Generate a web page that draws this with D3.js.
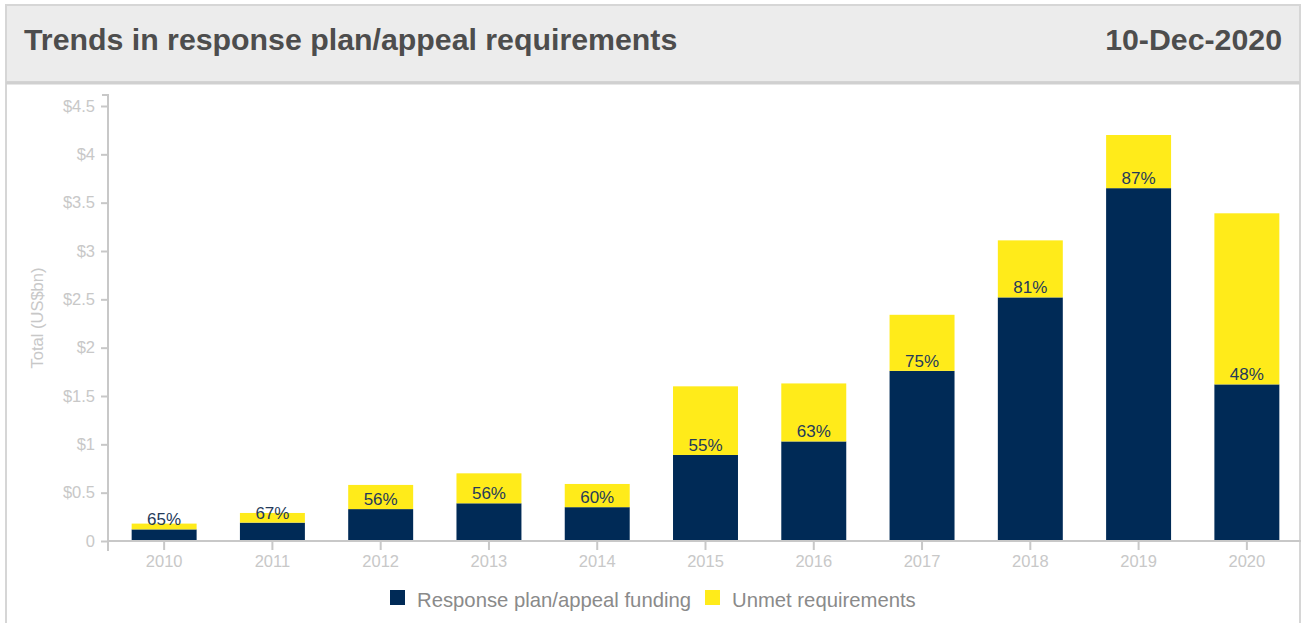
<!DOCTYPE html>
<html>
<head>
<meta charset="utf-8">
<script src="https://cdn.jsdelivr.net/npm/d3@7"></script>
<style>
  body { margin: 0; background: #fff; }
  svg { display: block; font-family: "Liberation Sans", Arial, sans-serif; }
</style>
</head>
<body>
<div id="chart"></div>
<script>
const years = ["2010", "2011", "2012", "2013", "2014", "2015", "2016", "2017", "2018", "2019", "2020"];
const funded = [0.12, 0.19, 0.33, 0.39, 0.35, 0.89, 1.03, 1.76, 2.52, 3.65, 1.62];
const unmet = [0.06, 0.10, 0.25, 0.31, 0.24, 0.71, 0.60, 0.58, 0.59, 0.55, 1.77];
const pctLabels = ["65%", "67%", "56%", "56%", "60%", "55%", "63%", "75%", "81%", "87%", "48%"];
const yTicks = [0, 0.5, 1, 1.5, 2, 2.5, 3, 3.5, 4, 4.5];
const seriesNames = ["Response plan/appeal funding", "Unmet requirements"];

const width = 1301,
  height = 623;
const navy = "#002a56",
  yellow = "#ffeb1a",
  grey = "#c8c8c8";

const svg = d3
  .select("#chart")
  .append("svg")
  .attr("width", width)
  .attr("height", height);

// panel + header
svg
  .append("rect")
  .attr("x", 6)
  .attr("y", 5)
  .attr("width", 1294)
  .attr("height", 640)
  .attr("fill", "#fff")
  .attr("stroke", "#d6d6d6")
  .attr("stroke-width", 2);

svg
  .append("rect")
  .attr("x", 6)
  .attr("y", 5)
  .attr("width", 1294)
  .attr("height", 77)
  .attr("fill", "#ececec")
  .attr("stroke", "#d6d6d6")
  .attr("stroke-width", 2);

svg
  .append("line")
  .attr("x1", 6)
  .attr("x2", 1300)
  .attr("y1", 83)
  .attr("y2", 83)
  .attr("stroke", "#d0d0d0")
  .attr("stroke-width", 3);

svg
  .append("text")
  .attr("x", 24)
  .attr("y", 50)
  .attr("font-size", 30.3)
  .attr("font-weight", "bold")
  .attr("fill", "#4d4d4d")
  .text("Trends in response plan/appeal requirements");

svg
  .append("text")
  .attr("x", 1282)
  .attr("y", 50)
  .attr("text-anchor", "end")
  .attr("font-size", 30.3)
  .attr("font-weight", "bold")
  .attr("fill", "#4d4d4d")
  .text("10-Dec-2020");

// scales
const x = d3.scaleBand().domain(years).range([110, 1301]).paddingInner(0.4).paddingOuter(0.2);
const y = d3.scaleLinear().domain([0, 4.5]).range([541, 106]);

const stackData = years.map((yr, i) => ({ year: yr, funded: funded[i], unmet: unmet[i] }));
const stack = d3.stack().keys(["funded", "unmet"])(stackData);
const colors = { funded: navy, unmet: yellow };

svg
  .append("g")
  .selectAll("g")
  .data(stack)
  .join("g")
  .attr("fill", (s) => colors[s.key])
  .selectAll("rect")
  .data((s) => s)
  .join("rect")
  .attr("x", (d) => x(d.data.year))
  .attr("width", x.bandwidth())
  .attr("y", (d) => y(d[1]))
  .attr("height", (d) => y(d[0]) - y(d[1]));

// percentage labels
svg
  .append("g")
  .selectAll("text")
  .data(stackData)
  .join("text")
  .attr("x", (d) => x(d.year) + x.bandwidth() / 2)
  .attr("y", (d) => y(d.funded) - 4)
  .attr("text-anchor", "middle")
  .attr("font-size", 17)
  .attr("fill", "#253a5a")
  .text((d, i) => pctLabels[i]);

// axes
const yAxis = d3
  .axisLeft(y)
  .tickValues(yTicks)
  .tickSize(7)
  .tickSizeOuter(0)
  .tickPadding(6)
  .tickFormat((d) => (d === 0 ? "0" : "$" + d));

const yG = svg.append("g").attr("transform", "translate(108,0)").call(yAxis);
yG.select(".domain").attr("d", "M-6,95H0V551");

const xAxis = d3.axisBottom(x).tickSize(9).tickSizeOuter(0).tickPadding(5);
const xG = svg.append("g").attr("transform", "translate(0,541)").call(xAxis);
xG.select(".domain").attr("d", "M108,10V0H1301");

[yG, xG].forEach((g) => {
  g.selectAll("path, line").attr("stroke", grey).attr("stroke-width", 2);
  g.selectAll("text").attr("fill", grey).attr("font-size", 16.5).attr("font-family", "Liberation Sans, Arial, sans-serif");
});

svg
  .append("text")
  .attr("transform", "translate(43,318) rotate(-90)")
  .attr("text-anchor", "middle")
  .attr("font-size", 16.5)
  .attr("fill", grey)
  .text("Total (US$bn)");

// legend
const legend = svg.append("g");
const legendX = [390, 705];
seriesNames.forEach((name, i) => {
  legend
    .append("rect")
    .attr("x", legendX[i])
    .attr("y", 590)
    .attr("width", 15)
    .attr("height", 15)
    .attr("fill", i === 0 ? navy : yellow);
  legend
    .append("text")
    .attr("x", legendX[i] + 27)
    .attr("y", 607)
    .attr("font-size", 20.3)
    .attr("fill", "#8a8a8a")
    .text(name);
});
</script>
</body>
</html>
